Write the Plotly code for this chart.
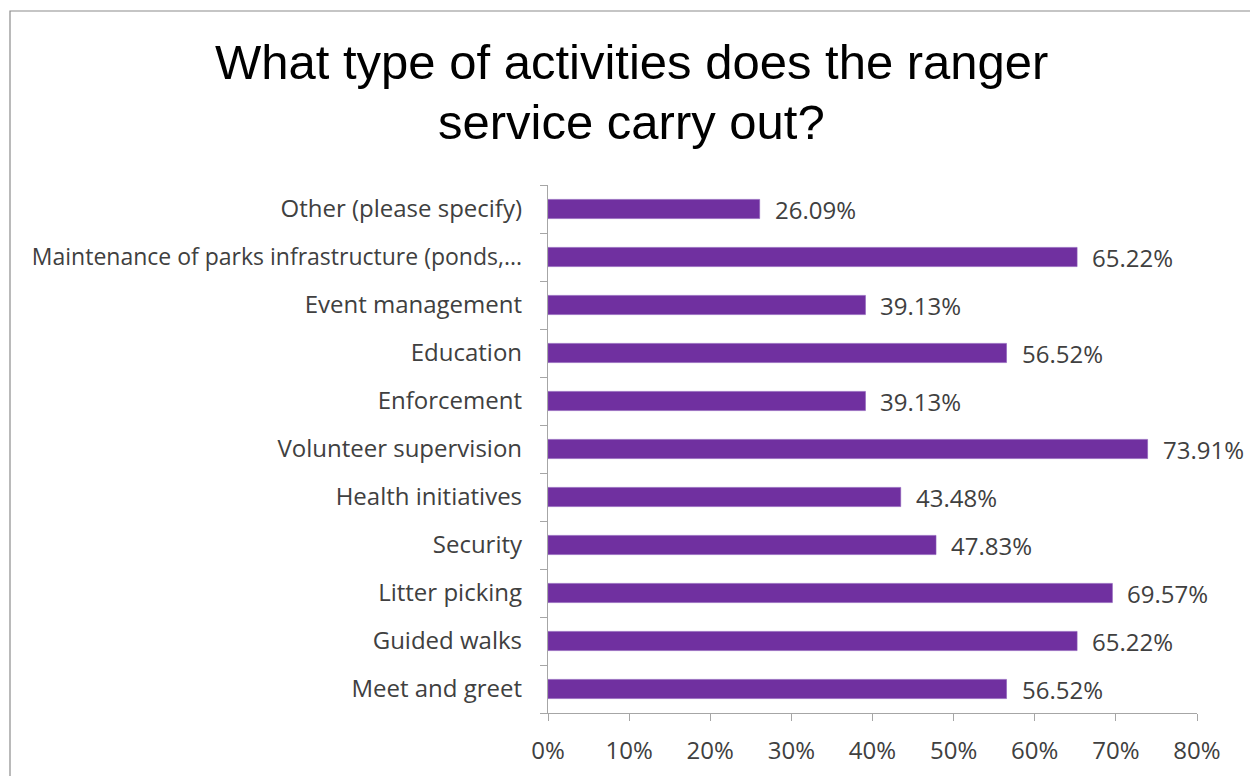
import plotly.graph_objects as go

# Survey results, bottom-to-top order as drawn on the category axis
activities = [
    "Meet and greet",
    "Guided walks",
    "Litter picking",
    "Security",
    "Health initiatives",
    "Volunteer supervision",
    "Enforcement",
    "Education",
    "Event management",
    "Maintenance of parks infrastructure (ponds,...",
    "Other (please specify)",
]
share_pct = [56.52, 65.22, 69.57, 47.83, 43.48, 73.91, 39.13, 56.52, 39.13, 65.22, 26.09]

x_ticks = [0, 10, 20, 30, 40, 50, 60, 70, 80]
x_tick_text = [f"{t}%" for t in x_ticks]

title_lines = ["What type of activities does the ranger", "service carry out?"]

BAR = "#7030A0"
AXIS = "#a6a6a6"
TEXT = "#404040"
LABEL_FONT = "Open Sans"

W, H = 1250, 776
L, R, T, B = 548, 53, 185, 63
plot_w, plot_h = W - L - R, H - T - B


def px_to_paper_x(px):
    return (px - L) / plot_w


def px_to_paper_y(py):
    return (H - B - py) / plot_h


# The long truncated label is set a touch smaller so it fits the margin
y_tick_text = [
    f'<span style="font-size:23px">{a}</span>' if len(a) > 30 else a
    for a in activities
]

fig = go.Figure(
    go.Bar(
        x=share_pct,
        y=activities,
        orientation="h",
        marker=dict(color=BAR, line=dict(color="#8a5ab8", width=0.6)),
        width=0.4,
        hoverinfo="x+y",
    )
)

# Value labels just past each bar end
for cat, v in zip(activities, share_pct):
    fig.add_annotation(
        x=v, y=cat, xref="x", yref="y",
        text=f"{v:.2f}%", showarrow=False,
        xanchor="left", yanchor="middle", xshift=13, yshift=0,
        font=dict(family=LABEL_FONT, size=24, color=TEXT),
    )

# Two-line chart title
for i, line in enumerate(title_lines):
    fig.add_annotation(
        x=px_to_paper_x(631), y=px_to_paper_y(62 + 60 * i),
        xref="paper", yref="paper",
        xanchor="center", yanchor="middle", showarrow=False,
        text=line,
        font=dict(family="Liberation Sans", size=49, color="#000000"),
    )

fig.update_layout(
    width=W,
    height=H,
    margin=dict(l=L, r=R, t=T, b=B, autoexpand=False),
    paper_bgcolor="white",
    plot_bgcolor="white",
    showlegend=False,
    xaxis=dict(
        range=[0, 80],
        tickvals=x_ticks,
        ticktext=x_tick_text,
        showgrid=False,
        zeroline=False,
        showline=True,
        linecolor=AXIS,
        linewidth=1.3,
        ticks="outside",
        ticklen=7,
        tickcolor=AXIS,
        tickwidth=1.3,
        ticklabelstandoff=9,
        tickfont=dict(family=LABEL_FONT, size=24, color=TEXT),
        automargin=False,
        fixedrange=True,
    ),
    yaxis=dict(
        type="category",
        categoryorder="array",
        categoryarray=activities,
        tickvals=activities,
        ticktext=y_tick_text,
        range=[-0.5, len(activities) - 0.5],
        showgrid=False,
        showline=True,
        linecolor=AXIS,
        linewidth=1.3,
        ticks="outside",
        tickson="boundaries",
        ticklen=7,
        tickcolor=AXIS,
        tickwidth=1.3,
        ticklabelstandoff=20,
        tickfont=dict(family=LABEL_FONT, size=24, color=TEXT),
        automargin=False,
        fixedrange=True,
    ),
)

# Thin frame around the chart area
fig.add_shape(
    type="rect", xref="paper", yref="paper",
    x0=px_to_paper_x(10), x1=px_to_paper_x(1270),
    y0=px_to_paper_y(800), y1=px_to_paper_y(11),
    line=dict(color="#8c8c8c", width=1.2),
    fillcolor="rgba(0,0,0,0)",
    layer="below",
)

fig.write_html("out.html")
